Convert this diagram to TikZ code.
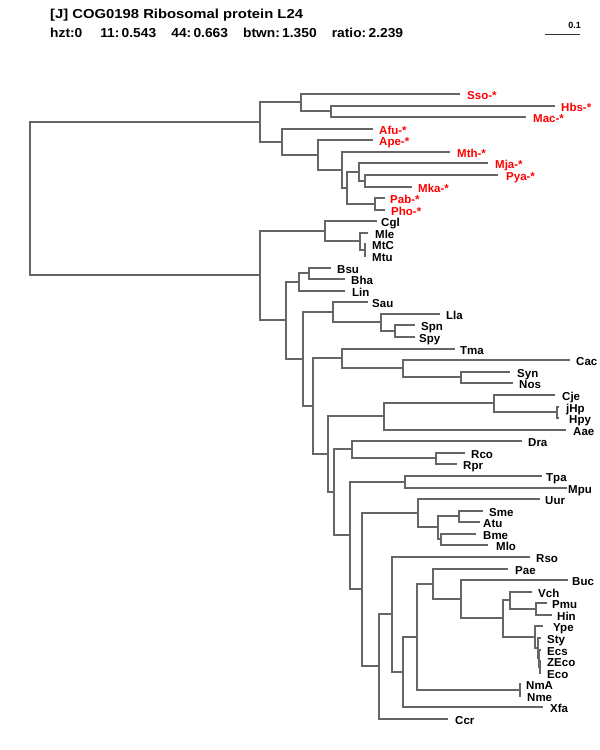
\documentclass[tikz,border=0pt]{standalone}
\usepackage{fontspec}
\usepackage{graphicx}
\setmainfont{Liberation Sans}
\definecolor{treegray}{RGB}{102,102,102}
\definecolor{labred}{RGB}{255,0,0}
\begin{document}
\begin{tikzpicture}[x=1pt,y=-1pt,
  br/.style={draw=treegray, line width=2pt},
  lab/.style={anchor=base west, inner sep=0pt, font=\bfseries\fontsize{11.5}{12}\selectfont},
  arch/.style={lab, text=labred},
  ttl/.style={anchor=base west, inner sep=0pt, font=\bfseries\fontsize{13}{14}\selectfont}]
\useasboundingbox (0,0) rectangle (600,750);

% header
\node[ttl] (title) at (50,18) {\scalebox{1.14}[1]{[J] COG0198 Ribosomal protein L24}};
\node[ttl] (stats) at (50,37) {\scalebox{1.06}[1]{hzt:0\hspace{1.3em}11:\,0.543\hspace{1.1em}44:\,0.663\hspace{1.1em}btwn:\,1.350\hspace{1.1em}ratio:\,2.239}};
\coordinate (sbL) at (545,34);
\coordinate (sbR) at (580,34);
\draw[line width=1pt, black!80] (sbL) -- (sbR);
\node[anchor=base east, inner sep=0pt, font=\bfseries\fontsize{9}{10}\selectfont] (sblab) at (581,28) {0.1};

% internal nodes
\coordinate (root) at (30,198);
\coordinate (A) at (260,122);
\coordinate (B) at (260,275);
\coordinate (S1) at (301,102);
\coordinate (S2) at (331,111);
\coordinate (T1) at (282,142);
\coordinate (T2) at (318,155);
\coordinate (T3) at (342,170);
\coordinate (T4) at (347,188);
\coordinate (T5) at (359,172);
\coordinate (T6) at (365,181);
\coordinate (PP) at (375,204);
\coordinate (A1) at (325,231);
\coordinate (M1) at (360,241);
\coordinate (MM) at (365,250);
\coordinate (C1) at (286,320);
\coordinate (BL) at (299,282);
\coordinate (BB) at (309,273);
\coordinate (C2) at (303,359);
\coordinate (SA) at (333,312);
\coordinate (LS) at (381,322);
\coordinate (SS) at (395,331);
\coordinate (C3) at (313,406);
\coordinate (TM) at (342,358);
\coordinate (CS) at (403,368);
\coordinate (SN) at (461,377);
\coordinate (C4) at (328,454);
\coordinate (AA) at (384,416);
\coordinate (CJ) at (494,403);
\coordinate (JH) at (557,412);
\coordinate (C5) at (334,492);
\coordinate (DR) at (352,449);
\coordinate (RR) at (436,458);
\coordinate (C6) at (350,535);
\coordinate (TP) at (405,482);
\coordinate (C7) at (362,589);
\coordinate (E2) at (418,513);
\coordinate (E1) at (438,527);
\coordinate (SM) at (459,516);
\coordinate (BM) at (441,539);
\coordinate (C8) at (379,666);
\coordinate (C9) at (392,614);
\coordinate (C10) at (403,672);
\coordinate (C11) at (417,637);
\coordinate (C12) at (433,584);
\coordinate (C13) at (461,599);
\coordinate (C14) at (503,618);
\coordinate (VC) at (510,600);
\coordinate (PH) at (536,609);
\coordinate (Y1) at (535,637);
\coordinate (Y2) at (538,648);
\coordinate (Y3) at (539,658);
\coordinate (Y4) at (540,667);
\coordinate (NN) at (520,690);

% leaves: name / end x / y / label x / text
\foreach \n/\ex/\yy/\lx/\t in {
  Sso/460/94/467/Sso-*, Hbs/555/106/561/Hbs-*, Mac/526/117/533/Mac-*,
  Afu/373/129/379/Afu-*, Ape/373/140/379/Ape-*, Mth/450/152/457/Mth-*,
  Mja/488/163/495/Mja-*, Pya/498/175/506/Pya-*, Mka/412/187/418/Mka-*,
  Pab/385/198/390/Pab-*, Pho/385/210/391/Pho-*}
{
  \coordinate (\n) at (\ex,\yy);
  \node[arch] (t\n) at (\lx,\yy+5.5) {\t};
}
\foreach \n/\ex/\yy/\lx in {
  Cgl/377/221/381, Mle/368/233/375, MtC/366/244/372, Mtu/366/256/372,
  Bsu/331/268/337, Bha/345/279/351, Lin/345/291/352,
  Sau/368/302/372, Lla/440/314/446, Spn/415/325/421, Spy/415/337/419,
  Tma/455/349/460, Cac/570/360/576, Syn/510/372/517, Nos/513/383/519,
  Cje/555/395/562, jHp/559/407/566, Hpy/559/418/569, Aae/566/430/573,
  Dra/522/441/528, Rco/465/453/471, Rpr/457/464/463,
  Tpa/542/476/546, Mpu/567/488/568,
  Uur/540/499/545, Sme/483/511/489, Atu/480/522/483, Bme/476/534/483, Mlo/488/545/496,
  Rso/530/557/536, Pae/508/569/515, Buc/568/580/572, Vch/532/592/538,
  Pmu/547/603/552, Hin/552/615/557, Ype/543/626/553, Sty/541/638/547,
  Ecs/541/650/547, ZEco/541/661/547, Eco/541/673/547,
  NmA/521/684/526, Nme/521/696/527, Xfa/543/707/550, Ccr/448/719/455}
{
  \coordinate (\n) at (\ex,\yy);
  \node[lab] (t\n) at (\lx,\yy+5.5) {\n};
}

% branches
\foreach \p/\c in {root/A, root/B,
  A/S1, A/T1, S1/Sso, S1/S2, S2/Hbs, S2/Mac,
  T1/Afu, T1/T2, T2/Ape, T2/T3, T3/Mth, T3/T4, T4/T5, T4/PP,
  T5/Mja, T5/T6, T6/Pya, T6/Mka, PP/Pab, PP/Pho,
  B/A1, B/C1, A1/Cgl, A1/M1, M1/Mle, M1/MM, MM/MtC, MM/Mtu,
  C1/BL, C1/C2, BL/BB, BL/Lin, BB/Bsu, BB/Bha,
  C2/SA, C2/C3, SA/Sau, SA/LS, LS/Lla, LS/SS, SS/Spn, SS/Spy,
  C3/TM, C3/C4, TM/Tma, TM/CS, CS/Cac, CS/SN, SN/Syn, SN/Nos,
  C4/AA, C4/C5, AA/CJ, AA/Aae, CJ/Cje, CJ/JH, JH/jHp, JH/Hpy,
  C5/DR, C5/C6, DR/Dra, DR/RR, RR/Rco, RR/Rpr,
  C6/TP, C6/C7, TP/Tpa, TP/Mpu,
  C7/E2, C7/C8, E2/Uur, E2/E1, E1/SM, E1/BM, SM/Sme, SM/Atu, BM/Bme, BM/Mlo,
  C8/C9, C8/Ccr, C9/Rso, C9/C10, C10/C11, C10/Xfa, C11/C12, C11/NN,
  C12/Pae, C12/C13, C13/Buc, C13/C14, C14/VC, C14/Y1,
  VC/Vch, VC/PH, PH/Pmu, PH/Hin, Y1/Ype, Y1/Y2, Y2/Sty, Y2/Y3, Y3/Ecs, Y3/Y4,
  Y4/ZEco, Y4/Eco, NN/NmA, NN/Nme}
{
  \draw[br] (\p) |- (\c);
}
\end{tikzpicture}
\end{document}
